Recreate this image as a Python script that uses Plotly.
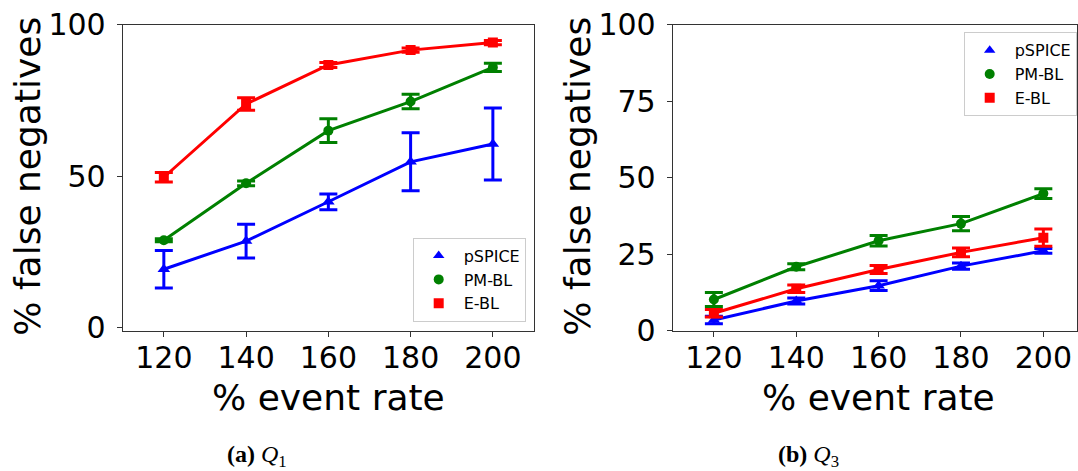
import plotly.graph_objects as go

event_rate = [120, 140, 160, 180, 200]

# Q1 (left panel)
q1_pspice = [19.2, 28.5, 41.5, 54.7, 60.6]
q1_pspice_err = [6.2, 5.6, 2.6, 9.6, 11.9]
q1_pmbl = [28.8, 47.6, 65.0, 74.6, 85.9]
q1_pmbl_err = [0.5, 0.8, 3.9, 2.4, 1.4]
q1_ebl = [49.6, 73.8, 86.7, 91.6, 94.1]
q1_ebl_err = [1.6, 2.1, 0.8, 0.7, 0.7]

# Q3 (right panel)
q3_pspice = [3.5, 9.7, 14.7, 21.1, 26.1]
q3_pspice_err = [1.2, 1.0, 1.6, 1.0, 0.8]
q3_pmbl = [10.2, 20.9, 29.4, 35.0, 44.8]
q3_pmbl_err = [2.3, 1.0, 1.7, 2.3, 1.6]
q3_ebl = [5.7, 13.7, 20.0, 25.6, 30.4]
q3_ebl_err = [1.2, 1.2, 1.3, 1.4, 2.8]

series_names = ["pSPICE", "PM-BL", "E-BL"]
colors = ["#0000ff", "#008000", "#ff0000"]
symbols = ["triangle-up", "circle", "square"]
msizes = [11, 10, 10]

y_ticks_left = [0, 50, 100]
y_ticks_right = [0, 25, 50, 75, 100]

W, H = 1078, 471
fig = go.Figure()

panels = [
    ("x", "y", "legend", [q1_pspice, q1_pmbl, q1_ebl], [q1_pspice_err, q1_pmbl_err, q1_ebl_err]),
    ("x2", "y2", "legend2", [q3_pspice, q3_pmbl, q3_ebl], [q3_pspice_err, q3_pmbl_err, q3_ebl_err]),
]

for xa, ya, lg, vals, errs in panels:
    for i in range(3):
        fig.add_trace(go.Scatter(
            x=event_rate, y=vals[i], xaxis=xa, yaxis=ya,
            mode="lines+markers",
            line=dict(color=colors[i], width=3),
            marker=dict(color=colors[i], symbol=symbols[i], size=msizes[i]),
            error_y=dict(type="data", array=errs[i], visible=True,
                         color=colors[i], thickness=3, width=9),
            showlegend=False,
        ))
    for i in range(3):
        fig.add_trace(go.Scatter(
            x=[None], y=[None], xaxis=xa, yaxis=ya,
            mode="markers", name=series_names[i], legend=lg,
            marker=dict(color=colors[i], symbol=symbols[i], size=10),
        ))

tick_font = dict(family="DejaVu Sans", size=30, color="black")
axis_common = dict(
    showline=True, linecolor="#333333", linewidth=1, mirror=True,
    ticks="outside", ticklen=5, tickwidth=1, tickcolor="#333333",
    showgrid=False, zeroline=False, tickfont=tick_font, automargin=False,
)

y_top = 1 - 24.7 / H
y_bot = 1 - 330.7 / H

fig.update_layout(
    width=W, height=H,
    margin=dict(l=0, r=0, t=0, b=0, autoexpand=False),
    paper_bgcolor="white", plot_bgcolor="white",
    xaxis=dict(domain=[122.7 / W, 534 / W], range=[110, 210],
               tickvals=event_rate, anchor="y", ticklabelstandoff=-5, **axis_common),
    yaxis=dict(domain=[y_bot, y_top], range=[-1.1, 100],
               tickvals=y_ticks_left, anchor="x", ticklabelstandoff=5, **axis_common),
    xaxis2=dict(domain=[672.7 / W, 1076.7 / W], range=[110, 208.1],
                tickvals=event_rate, anchor="y2", ticklabelstandoff=-5, **axis_common),
    yaxis2=dict(domain=[y_bot, y_top], range=[0, 100],
                tickvals=y_ticks_right, anchor="x2", ticklabelstandoff=5, **axis_common),
    legend=dict(x=525.7 / W, xanchor="right", y=1 - 321.7 / H, yanchor="bottom",
                bgcolor="white", bordercolor="#cccccc", borderwidth=1,
                font=dict(family="DejaVu Sans", size=16, color="black"),
                itemwidth=40, tracegroupgap=0),
    legend2=dict(x=1076.7 / W, xanchor="right", y=1 - 32.3 / H, yanchor="top",
                 bgcolor="white", bordercolor="#cccccc", borderwidth=1,
                 font=dict(family="DejaVu Sans", size=16, color="black"),
                 itemwidth=40, tracegroupgap=0),
)

label_font = dict(family="DejaVu Sans", size=36, color="black")
annotations = [
    dict(text="% false negatives", x=28 / W, y=1 - 176.7 / H, textangle=-90),
    dict(text="% false negatives", x=578 / W, y=1 - 176.7 / H, textangle=-90),
    dict(text="% event rate", x=328 / W, y=1 - 397 / H),
    dict(text="% event rate", x=879 / W, y=1 - 397 / H),
]
for a in annotations:
    fig.add_annotation(xref="paper", yref="paper", showarrow=False,
                       xanchor="center", yanchor="middle", font=label_font, **a)

cap_font = dict(family="Liberation Serif", size=24, color="black")
fig.add_annotation(text="<b>(a)</b> <i>Q</i><sub>1</sub>", x=257 / W, y=1 - 456 / H,
                   xref="paper", yref="paper", showarrow=False,
                   xanchor="center", yanchor="middle", font=cap_font)
fig.add_annotation(text="<b>(b)</b> <i>Q</i><sub>3</sub>", x=808 / W, y=1 - 456 / H,
                   xref="paper", yref="paper", showarrow=False,
                   xanchor="center", yanchor="middle", font=cap_font)

fig.write_html("out.html")
